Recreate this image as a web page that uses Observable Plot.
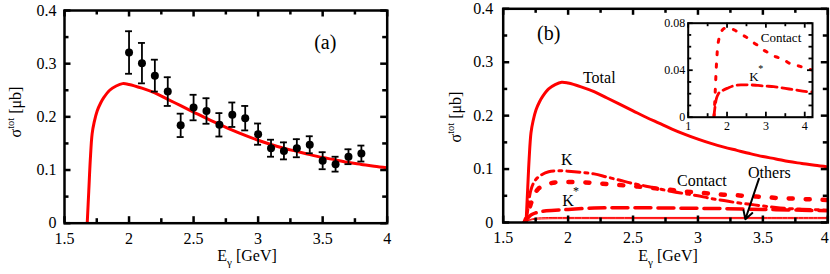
<!DOCTYPE html>
<html><head><meta charset="utf-8">
<script src="https://cdn.jsdelivr.net/npm/d3@7"></script>
<script src="https://cdn.jsdelivr.net/npm/@observablehq/plot@0.6"></script>
<style>
body{margin:0;background:#fff;}
#wrap{position:relative;width:830px;height:274px;overflow:hidden;background:#fff;}
#wrap svg{position:absolute;top:0;}
</style></head><body><div id="wrap"></div>
<script>
const FONT = "'Liberation Serif','Times New Roman',serif";
const RED = "#ff0000";

// ---- Panel (a): experimental data ----
const expE = [2.0,2.1,2.2,2.3,2.4,2.5,2.6,2.7,2.8,2.9,3.0,3.1,3.2,3.3,3.4,3.5,3.6,3.7,3.8];
const expSigma = [0.321,0.301,0.2775,0.2475,0.184,0.2175,0.211,0.185,0.204,0.1975,0.1675,0.141,0.136,0.141,0.1475,0.1175,0.111,0.125,0.131];
const expErr = [0.040,0.038,0.030,0.027,0.022,0.024,0.024,0.022,0.023,0.023,0.020,0.016,0.016,0.017,0.016,0.016,0.014,0.014,0.015];

// ---- Total cross section (both panels) ----
const totalE = [1.676,1.688,1.70,1.714,1.73,1.753,1.78,1.804,1.85,1.90,1.95,2.0,2.1,2.2,2.3,2.4,2.5,2.6,2.7,2.8,2.9,3.0,3.1,3.2,3.3,3.4,3.5,3.6,3.7,3.8,3.9,4.0];
const totalSigma = [0,0.06,0.12,0.168,0.19,0.211,0.226,0.236,0.250,0.258,0.2625,0.261,0.254,0.245,0.233,0.221,0.209,0.197,0.186,0.175,0.165,0.156,0.148,0.141,0.135,0.129,0.1235,0.119,0.114,0.1105,0.107,0.104];

// ---- Panel (b) contributions ----
const kE = [1.675,1.69,1.70,1.72,1.75,1.80,1.85,1.92,2.0,2.1,2.2,2.3,2.4,2.5,2.6,2.7,2.8,2.9,3.0,3.1,3.2,3.3,3.4,3.5,3.6,3.7,3.8,3.9,4.0];
const kSigma = [0,0.025,0.045,0.066,0.08,0.09,0.095,0.097,0.096,0.094,0.091,0.085,0.079,0.073,0.068,0.063,0.058,0.054,0.05,0.045,0.041,0.037,0.034,0.031,0.028,0.026,0.025,0.024,0.023];

const contactE = [1.665,1.68,1.70,1.72,1.74,1.77,1.82,1.9,2.0,2.1,2.2,2.3,2.4,2.5,2.6,2.7,2.8,2.9,3.0,3.1,3.2,3.3,3.4,3.5,3.6,3.7,3.8,3.9,4.0,4.2];
const contactSigma = [0,0.01,0.025,0.04,0.052,0.063,0.07,0.075,0.076,0.0755,0.074,0.072,0.07,0.068,0.066,0.063,0.061,0.058,0.056,0.054,0.052,0.051,0.049,0.048,0.046,0.045,0.044,0.043,0.042,0.04];

const kstarE = [1.66,1.68,1.70,1.72,1.75,1.8,1.9,2.0,2.2,2.4,2.6,2.8,3.0,3.2,3.4,3.6,3.8,4.0,4.2];
const kstarSigma = [0,0.006,0.011,0.015,0.018,0.021,0.023,0.0245,0.027,0.0275,0.0275,0.027,0.0265,0.026,0.025,0.024,0.023,0.022,0.0215];

const othersE = [1.67,1.70,1.75,1.85,2.0,2.5,3.0,3.5,4.0];
const othersSigmaA = [0,0.005,0.008,0.0093,0.0095,0.0095,0.0095,0.0095,0.0095];
const othersSigmaB = [0,0.004,0.006,0.007,0.0072,0.0072,0.0072,0.0072,0.0072];

// ---- ticks ----
const xTicksMain = [1.5,2,2.5,3,3.5,4];
const xMinorMain = [1.75,2.25,2.75,3.25,3.75];
const yTicksMain = [0,0.1,0.2,0.3,0.4];
const yMinorMain = [0.05,0.15,0.25,0.35];
const xTicksInset = [1,2,3,4];
const xMinorInset = [1.5,2.5,3.5];
const yTicksInset = [0,0.04,0.08];
const yTickLabelsInset = ["0","0.04","0.08"];
const yMinorInset = [0.01,0.02,0.03,0.05,0.06,0.07];

// ---- annotations ----
const annA = {text:["(a)"], x:[3.52], y:[0.34]};
const annB = {text:["(b)","Total","K","Contact","K","Others"], x:[1.85,2.24,1.99,3.03,2.0,3.55], y:[0.354,0.27,0.117,0.078,0.041,0.092], size:[20,16,16,16,16,16]};
const starB = {x:[2.0], y:[0.041]};
const arrowB = {x1:[3.47], y1:[0.082], x2:[3.365], y2:[0.006]};
const annInset = {text:["Contact","K"], x:[3.39,2.69], y:[0.0674,0.0342]};
const starInset = {x:[2.69], y:[0.0342]};

const idx = n => d3.range(n);
const series = (xs, ys) => xs.map((x,i)=>({x, y: ys[i]}));

// inward frame ticks on all four sides
function frameTicks(xs, xm, ys, ym, innerW, innerH, major, minor, sw) {
  const o = {stroke:"black", strokeWidth: sw};
  const fx = {x: d => d}, fy = {y: d => d};
  return [
    Plot.tickX(xs, {...o, ...fx, insetTop: innerH - major}),
    Plot.tickX(xs, {...o, ...fx, insetBottom: innerH - major}),
    Plot.tickX(xm, {...o, ...fx, insetTop: innerH - minor}),
    Plot.tickX(xm, {...o, ...fx, insetBottom: innerH - minor}),
    Plot.tickY(ys, {...o, ...fy, insetRight: innerW - major}),
    Plot.tickY(ys, {...o, ...fy, insetLeft: innerW - major}),
    Plot.tickY(ym, {...o, ...fy, insetRight: innerW - minor}),
    Plot.tickY(ym, {...o, ...fy, insetLeft: innerW - minor})
  ];
}

function richText(svg, x, y, parts, size, rotate) {
  const t = d3.select(svg).append("text")
    .attr("transform", `translate(${x},${y}) rotate(${rotate||0})`)
    .attr("text-anchor","middle")
    .attr("font-family", FONT).attr("font-size", size).attr("fill","black");
  let shift = 0;
  parts.forEach(p => {
    const ts = t.append("tspan").text(p.t);
    let target = 0, fs = size;
    if (p.sup) { target = -0.42*size; fs = size*0.65; }
    if (p.sub) { target = 0.3*size; fs = size*0.7; }
    ts.attr("font-size", fs).attr("dy", target - shift);
    shift = target;
  });
  return t;
}

const style = {fontFamily: FONT, fontSize: "16px", background: "transparent", color: "black", overflow: "visible"};
const wrap = document.getElementById("wrap");
const fmt = d => String(d);

// ===== Panel (a) =====
{
  const W = 415, H = 274, mL = 64, mR = 28.3, mT = 10, mB = 51.3;
  const iW = W - mL - mR, iH = H - mT - mB;
  const pts = idx(expE.length);
  const svg = Plot.plot({
    width: W, height: H, marginLeft: mL, marginRight: mR, marginTop: mT, marginBottom: mB,
    x: {domain: [1.5, 4]}, y: {domain: [0, 0.4]},
    style,
    marks: [
      Plot.line(series(totalE, totalSigma), {x:"x", y:"y", stroke: RED, strokeWidth: 3, curve: "catmull-rom", clip: true}),
      Plot.ruleX(pts, {x: i=>expE[i], y1: i=>expSigma[i]-expErr[i], y2: i=>expSigma[i]+expErr[i], stroke:"black", strokeWidth: 1.8}),
      Plot.ruleY(pts, {y: i=>expSigma[i]-expErr[i], x1: i=>expE[i]-0.027, x2: i=>expE[i]+0.027, stroke:"black", strokeWidth: 1.8}),
      Plot.ruleY(pts, {y: i=>expSigma[i]+expErr[i], x1: i=>expE[i]-0.027, x2: i=>expE[i]+0.027, stroke:"black", strokeWidth: 1.8}),
      Plot.dot(pts, {x: i=>expE[i], y: i=>expSigma[i], r: 4, fill: "black"}),
      ...frameTicks(xTicksMain, xMinorMain, yTicksMain, yMinorMain, iW, iH, 6.5, 4.5, 2.5),
      Plot.frame({stroke: "black", strokeWidth: 2.5}),
      Plot.axisX({ticks: xTicksMain, tickSize: 0, tickPadding: 9, tickFormat: fmt, label: null, fontFamily: FONT}),
      Plot.axisY({ticks: yTicksMain, tickSize: 0, tickPadding: 8, tickFormat: fmt, label: null, fontFamily: FONT}),
      Plot.text(idx(annA.text.length), {x: i=>annA.x[i], y: i=>annA.y[i], text: i=>annA.text[i], fontSize: 20})
    ]
  });
  svg.style.left = "0px";
  wrap.appendChild(svg);
  richText(svg, 247, 261, [{t:"E"},{t:"γ",sub:true},{t:" [GeV]"}], 16, 0);
  richText(svg, 21, 112, [{t:"σ"},{t:"tot",sup:true},{t:" [μb]"}], 16, -90);
}

// ===== Panel (b) =====
{
  const W = 415, H = 274, mL = 87.7, mR = 2.7, mT = 8.3, mB = 52;
  const iW = W - mL - mR, iH = H - mT - mB;
  const svg = Plot.plot({
    width: W, height: H, marginLeft: mL, marginRight: mR, marginTop: mT, marginBottom: mB,
    x: {domain: [1.5, 4]}, y: {domain: [0, 0.4]},
    style,
    marks: [
      Plot.line(series(othersE, othersSigmaA), {x:"x", y:"y", stroke: RED, strokeWidth: 1, curve: "catmull-rom", clip: true}),
      Plot.line(series(othersE, othersSigmaB), {x:"x", y:"y", stroke: RED, strokeWidth: 1, curve: "catmull-rom", clip: true}),
      Plot.line(series(kstarE, kstarSigma), {x:"x", y:"y", stroke: RED, strokeWidth: 3.5, strokeDasharray: "16,7", curve: "catmull-rom", clip: true}),
      Plot.line(series(contactE, contactSigma), {x:"x", y:"y", stroke: RED, strokeWidth: 4.5, strokeDasharray: "4,13", curve: "catmull-rom", clip: true}),
      Plot.line(series(kE, kSigma), {x:"x", y:"y", stroke: RED, strokeWidth: 3, strokeDasharray: "13,5,3,5", curve: "catmull-rom", clip: true}),
      Plot.line(series(totalE, totalSigma), {x:"x", y:"y", stroke: RED, strokeWidth: 3, curve: "catmull-rom", clip: true}),
      ...frameTicks(xTicksMain, xMinorMain, yTicksMain, yMinorMain, iW, iH, 6.5, 4.5, 2.5),
      Plot.frame({stroke: "black", strokeWidth: 2.5}),
      Plot.axisX({ticks: xTicksMain.slice(0, -1), tickSize: 0, tickPadding: 9, tickFormat: fmt, label: null, fontFamily: FONT}),
      Plot.axisX({ticks: xTicksMain.slice(-1), tickSize: 0, tickPadding: 9, tickFormat: fmt, label: null, fontFamily: FONT, dx: -3}),
      Plot.axisY({ticks: yTicksMain, tickSize: 0, tickPadding: 10, tickFormat: fmt, label: null, fontFamily: FONT}),
      Plot.arrow(idx(1), {x1: i=>arrowB.x1[i], y1: i=>arrowB.y1[i], x2: i=>arrowB.x2[i], y2: i=>arrowB.y2[i], stroke: "black", strokeWidth: 2, headLength: 7}),
      Plot.text(idx(annB.text.length), {x: i=>annB.x[i], y: i=>annB.y[i], text: i=>annB.text[i], fontSize: i=>annB.size[i]}),
      Plot.text(idx(1), {x: i=>starB.x[i], y: i=>starB.y[i], text: () => "*", fontSize: 12, dx: 8, dy: -9})
    ]
  });
  svg.style.left = "415px";
  wrap.appendChild(svg);
  richText(svg, 253, 261, [{t:"E"},{t:"γ",sub:true},{t:" [GeV]"}], 16, 0);
  richText(svg, 46, 117, [{t:"σ"},{t:"tot",sup:true},{t:" [μb]"}], 16, -90);
}

// ===== Inset =====
{
  const W = 190, H = 140, mL = 47.7, mR = 18, mT = 22.7, mB = 23.3;
  const iW = W - mL - mR, iH = H - mT - mB;
  const svg = Plot.plot({
    width: W, height: H, marginLeft: mL, marginRight: mR, marginTop: mT, marginBottom: mB,
    x: {domain: [1, 4.2]}, y: {domain: [0, 0.08]},
    style: {...style, fontSize: "12px"},
    marks: [
      Plot.frame({fill: "white", stroke: "none"}),
      Plot.line(series(kstarE, kstarSigma), {x:"x", y:"y", stroke: RED, strokeWidth: 2.8, strokeDasharray: "10,5", curve: "catmull-rom", clip: true}),
      Plot.line(series(contactE, contactSigma), {x:"x", y:"y", stroke: RED, strokeWidth: 3, strokeDasharray: "3,9.5", curve: "catmull-rom", clip: true}),
      ...frameTicks(xTicksInset, xMinorInset, yTicksInset, yMinorInset, iW, iH, 5, 3.5, 1.8),
      Plot.frame({stroke: "black", strokeWidth: 2}),
      Plot.axisX({ticks: xTicksInset, tickSize: 0, tickPadding: 4, tickFormat: fmt, label: null, fontFamily: FONT}),
      Plot.axisY({ticks: yTicksInset, tickSize: 0, tickPadding: 3, tickFormat: (d,i) => yTickLabelsInset[i], label: null, fontFamily: FONT}),
      Plot.text(idx(annInset.text.length), {x: i=>annInset.x[i], y: i=>annInset.y[i], text: i=>annInset.text[i], fontSize: 13}),
      Plot.text(idx(1), {x: i=>starInset.x[i], y: i=>starInset.y[i], text: () => "*", fontSize: 10, dx: 7, dy: -8})
    ]
  });
  svg.style.left = "640px";
  wrap.appendChild(svg);
}
</script></body></html>
